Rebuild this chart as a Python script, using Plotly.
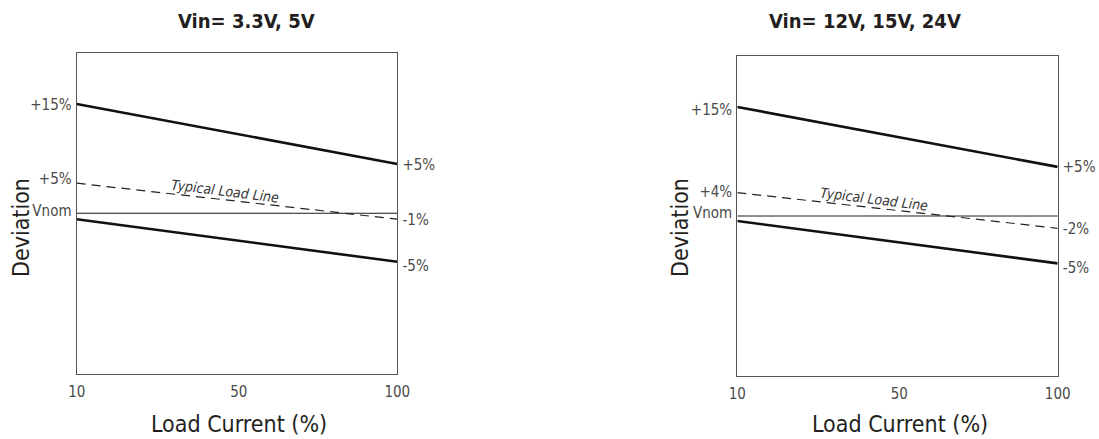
import plotly.graph_objects as go

# ---- data (schematic positions; Vnom = 0) ----
load_current = [10, 100]
vnom = [0, 0]

left_upper = [18.2, 8.2]
left_typical = [5.0, -1.0]
left_lower = [-1.0, -8.1]

right_upper = [18.2, 8.2]
right_typical = [3.9, -2.05]
right_lower = [-0.83, -7.9]

x_tick_vals = [10, 55.5, 100]
x_tick_text = ["10", "50", "100"]

left_ticks_l_vals = [18.0, 5.7, 0.4]
left_ticks_l_text = ["+15%", "+5%", "Vnom"]
left_ticks_r_vals = [8.0, -1.1, -8.8]
left_ticks_r_text = ["+5%", "-1%", "-5%"]

right_ticks_l_vals = [17.8, 4.0, 0.5]
right_ticks_l_text = ["+15%", "+4%", "Vnom"]
right_ticks_r_vals = [8.2, -2.2, -8.7]
right_ticks_r_text = ["+5%", "-2%", "-5%"]

titles = ["Vin= 3.3V, 5V", "Vin= 12V, 15V, 24V"]

FONT = "DejaVu Sans Condensed, Liberation Sans Narrow, sans-serif"
TXT = "#231f20"
TICK = "#4a4a4a"
FRAME = "#555555"

fig = go.Figure()

def add_panel(xa, ya, upper, typical, lower):
    fig.add_trace(go.Scatter(x=load_current, y=vnom, mode="lines", xaxis=xa, yaxis=ya,
                             line=dict(color="#1a1a1a", width=1.1), hoverinfo="skip"))
    fig.add_trace(go.Scatter(x=load_current, y=typical, mode="lines", xaxis=xa, yaxis=ya,
                             line=dict(color="#222222", width=1.2, dash="9px,6px"), hoverinfo="skip"))
    fig.add_trace(go.Scatter(x=load_current, y=upper, mode="lines", xaxis=xa, yaxis=ya,
                             line=dict(color="#111111", width=2.6), hoverinfo="skip"))
    fig.add_trace(go.Scatter(x=load_current, y=lower, mode="lines", xaxis=xa, yaxis=ya,
                             line=dict(color="#111111", width=2.6), hoverinfo="skip"))

add_panel("x", "y", left_upper, left_typical, left_lower)
add_panel("x2", "y2", right_upper, right_typical, right_lower)

# invisible traces so the right-hand axes render
fig.add_trace(go.Scatter(x=load_current, y=vnom, xaxis="x", yaxis="y3", mode="lines",
                         line=dict(width=0), hoverinfo="skip"))
fig.add_trace(go.Scatter(x=load_current, y=vnom, xaxis="x2", yaxis="y4", mode="lines",
                         line=dict(width=0), hoverinfo="skip"))

tickfont = dict(family=FONT, size=15, color=TICK)

xcommon = dict(range=[10, 100], tickvals=x_tick_vals, ticktext=x_tick_text, showgrid=False,
               zeroline=False, showline=True, mirror=True, linecolor=FRAME, linewidth=1.3,
               ticks="outside", ticklen=4, tickcolor="rgba(0,0,0,0)", tickfont=tickfont,
               fixedrange=True, automargin=False)
ycommon = dict(showgrid=False, zeroline=False, showline=True, mirror=True, linecolor=FRAME,
               linewidth=1.3, ticks="outside", ticklen=1, tickcolor="rgba(0,0,0,0)",
               tickfont=tickfont, fixedrange=True, automargin=False)

left_range = [-26.8, 26.7]
right_range = [-26.7, 26.7]

fig.update_layout(
    width=1099, height=439,
    margin=dict(l=0, r=0, t=0, b=0),
    paper_bgcolor="white", plot_bgcolor="white",
    showlegend=False,
    xaxis=dict(domain=[0.0698, 0.3615], anchor="y", **xcommon),
    yaxis=dict(domain=[0.1481, 0.8793], anchor="x", range=left_range,
               tickvals=left_ticks_l_vals, ticktext=left_ticks_l_text, **ycommon),
    yaxis3=dict(overlaying="y", side="right", anchor="x", range=left_range,
                tickvals=left_ticks_r_vals, ticktext=left_ticks_r_text, **ycommon),
    xaxis2=dict(domain=[0.6709, 0.9624], anchor="y2", **xcommon),
    yaxis2=dict(domain=[0.1435, 0.8724], anchor="x2", range=right_range,
                tickvals=right_ticks_l_vals, ticktext=right_ticks_l_text, **ycommon),
    yaxis4=dict(overlaying="y2", side="right", anchor="x2", range=right_range,
                tickvals=right_ticks_r_vals, ticktext=right_ticks_r_text, **ycommon),
)

ann = []
def paper_text(text, px, py, size, angle=0):
    ann.append(dict(text=text, x=px / 1099, y=1 - py / 439, xref="paper", yref="paper",
                    xanchor="center", yanchor="middle", showarrow=False, textangle=angle,
                    font=dict(family=FONT, size=size, color=TXT)))

# panel titles
paper_text("<b>" + titles[0] + "</b>", 246, 21, 20)
paper_text("<b>" + titles[1] + "</b>", 865, 21, 20)
# axis titles
for cx in (238.5, 900):
    paper_text("Load Current (%)", cx, 424, 23)
for cx in (21, 680):
    paper_text("Deviation", cx, 228, 23, -90)
# typical load line labels
ann.append(dict(text="Typical Load Line", x=51.6, y=3.7, xref="x", yref="y", showarrow=False,
                xanchor="center", yanchor="middle", textangle=7,
                font=dict(family=FONT, size=14, color="#333333", style="italic")))
ann.append(dict(text="Typical Load Line", x=48.4, y=2.8, xref="x2", yref="y2", showarrow=False,
                xanchor="center", yanchor="middle", textangle=7,
                font=dict(family=FONT, size=14, color="#333333", style="italic")))

fig.update_layout(annotations=ann)

fig.write_html("out.html", config={"displayModeBar": False},
               post_script="document.body.style.margin='0';")
